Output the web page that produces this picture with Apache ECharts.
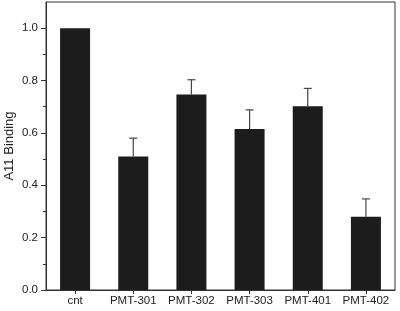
<!DOCTYPE html>
<html>
<head>
<meta charset="utf-8">
<script src="https://cdn.jsdelivr.net/npm/echarts@6/dist/echarts.min.js"></script>
<style>
  html, body { margin: 0; padding: 0; background: #fff; }
  #chart { width: 400px; height: 311px; }
</style>
</head>
<body>
<div id="chart"></div>
<script>
// data
var categories = ['cnt', 'PMT-301', 'PMT-302', 'PMT-303', 'PMT-401', 'PMT-402']
var binding = [1.0, 0.51, 0.747, 0.615, 0.702, 0.28]
var errorTop = [1.0, 0.58, 0.803, 0.688, 0.77, 0.348]
var majorTicks = [0, 0.2, 0.4, 0.6, 0.8, 1.0]
var minorTicks = [0.1, 0.3, 0.5, 0.7, 0.9]

var myChart = echarts.init(document.getElementById('chart'))

var errData = []
for (var i = 0; i < categories.length; i++) {
  if (errorTop[i] > binding[i]) errData.push([i, binding[i], errorTop[i]])
}

var textColor = '#222'
var lineColor = '#333'

myChart.setOption({
  animation: false,
  grid: {
    left: 46, top: 2, right: 5, bottom: 21,
    outerBoundsMode: 'none',
    show: true, borderColor: lineColor, borderWidth: 1
  },
  xAxis: {
    type: 'category',
    data: categories,
    axisLine: { show: true, lineStyle: { color: lineColor } },
    axisTick: { show: true, alignWithLabel: true, length: 4, lineStyle: { color: lineColor } },
    axisLabel: { interval: 0, hideOverlap: false, color: textColor, fontSize: 11.5, fontFamily: 'Liberation Sans', margin: 5 }
  },
  yAxis: [
    {
      type: 'value',
      min: 0,
      max: 1.1,
      interval: 0.1,
      name: 'A11 Binding',
      nameLocation: 'middle',
      nameGap: 30,
      nameMoveOverlap: false,
      nameTextStyle: { color: textColor, fontSize: 13, fontFamily: 'Liberation Sans' },
      splitLine: { show: false },
      axisLine: { show: true, lineStyle: { color: lineColor } },
      axisTick: { show: true, length: 5, customValues: majorTicks, lineStyle: { color: lineColor } },
      axisLabel: {
        color: textColor, fontSize: 11.5, fontFamily: 'Liberation Sans', margin: 8,
        customValues: majorTicks,
        formatter: function (v) { return v.toFixed(1) }
      }
    },
    {
      type: 'value',
      min: 0,
      max: 1.1,
      interval: 0.1,
      position: 'left',
      splitLine: { show: false },
      axisLine: { show: false },
      axisLabel: { show: false },
      axisTick: { show: true, length: 3, customValues: minorTicks, lineStyle: { color: lineColor } }
    }
  ],
  series: [
    {
      type: 'bar',
      data: binding,
      barWidth: 30,
      itemStyle: { color: '#1c1c1c' }
    },
    {
      type: 'custom',
      data: errData,
      z: 1,
      renderItem: function (params, api) {
        var x = api.value(0)
        var lo = api.coord([x, api.value(1)])
        var hi = api.coord([x, api.value(2)])
        var style = { stroke: '#444', lineWidth: 1.2 }
        return {
          type: 'group',
          children: [
            { type: 'line', shape: { x1: lo[0], y1: lo[1], x2: hi[0], y2: hi[1] }, style: style },
            { type: 'line', shape: { x1: hi[0] - 4, y1: hi[1], x2: hi[0] + 4, y2: hi[1] }, style: style }
          ]
        }
      }
    }
  ]
})
</script>
</body>
</html>
